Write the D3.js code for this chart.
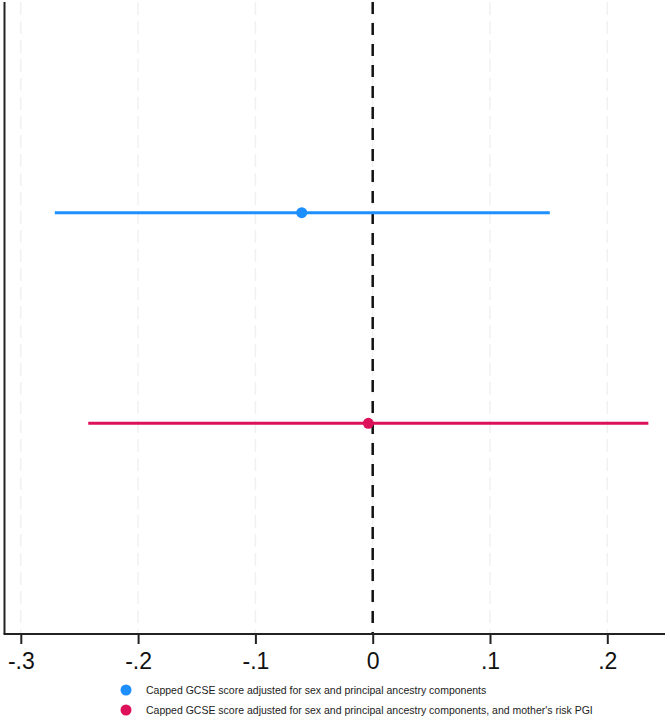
<!DOCTYPE html>
<html>
<head>
<meta charset="utf-8">
<script src="https://cdn.jsdelivr.net/npm/d3@7"></script>
<style>
  html, body { margin: 0; padding: 0; background: #fff; }
  svg { display: block; }
</style>
</head>
<body>
<svg id="chart" width="670" height="721"></svg>
<script>
// ---- data ----
const seriesLabels = [
  "Capped GCSE score adjusted for sex and principal ancestry components",
  "Capped GCSE score adjusted for sex and principal ancestry components, and mother's risk PGI"
];
const seriesColors = ["#1e8fff", "#dc1159"];
const estimates = [-0.0605, -0.0037];
const ciLower = [-0.271, -0.2425];
const ciUpper = [0.151, 0.235];
const rowPositions = [1, 2];
const xTickValues = [-0.3, -0.2, -0.1, 0, 0.1, 0.2];
const xTickLabels = ["-.3", "-.2", "-.1", "0", ".1", ".2"];

// ---- layout ----
const svg = d3.select("#chart");
const plotLeft = 4.5, plotRight = 665, plotTop = 2, plotBottom = 634;

const x = d3.scaleLinear().domain([-0.3, 0.2]).range([20.8, 607.3]);
const y = d3.scaleLinear().domain([0, 3]).range([plotTop, plotBottom]);

// gridlines
svg.append("g").selectAll("line").data(xTickValues).join("line")
  .attr("x1", d => x(d)).attr("x2", d => x(d))
  .attr("y1", plotTop).attr("y2", plotBottom)
  .attr("stroke", "#f1f1f1").attr("stroke-width", 1.5)
  .attr("stroke-dasharray", "13,6");

// zero reference line
svg.append("line")
  .attr("x1", x(0)).attr("x2", x(0))
  .attr("y1", plotTop).attr("y2", plotBottom)
  .attr("stroke", "#111").attr("stroke-width", 2.5)
  .attr("stroke-dasharray", "12,9");

// CI lines
const rows = d3.range(estimates.length);
svg.append("g").selectAll("line").data(rows).join("line")
  .attr("x1", i => x(ciLower[i])).attr("x2", i => x(ciUpper[i]))
  .attr("y1", i => y(rowPositions[i])).attr("y2", i => y(rowPositions[i]))
  .attr("stroke", i => seriesColors[i]).attr("stroke-width", 3);

// points
svg.append("g").selectAll("circle").data(rows).join("circle")
  .attr("cx", i => x(estimates[i])).attr("cy", i => y(rowPositions[i]))
  .attr("r", 5.5).attr("fill", i => seriesColors[i]);

// left axis line
svg.append("line")
  .attr("x1", plotLeft).attr("x2", plotLeft)
  .attr("y1", plotTop).attr("y2", plotBottom)
  .attr("stroke", "#222").attr("stroke-width", 2);

// bottom axis
const xAxis = d3.axisBottom(x)
  .tickValues(xTickValues)
  .tickFormat((d, i) => xTickLabels[i])
  .tickSize(10).tickPadding(9).tickSizeOuter(0);
const gx = svg.append("g").attr("transform", `translate(0,${plotBottom})`).call(xAxis);
gx.select(".domain").remove();
gx.selectAll(".tick line").attr("stroke", "#222").attr("stroke-width", 2);
gx.selectAll(".tick text")
  .attr("font-family", "Liberation Sans, Arial, sans-serif")
  .attr("font-size", 23).attr("fill", "#111");
svg.append("line")
  .attr("x1", plotLeft - 1).attr("x2", plotRight)
  .attr("y1", plotBottom).attr("y2", plotBottom)
  .attr("stroke", "#222").attr("stroke-width", 2);

// legend
const lg = svg.append("g");
const legendY = [690, 710];
lg.selectAll("circle").data(rows).join("circle")
  .attr("cx", 126).attr("cy", i => legendY[i]).attr("r", 5.5)
  .attr("fill", i => seriesColors[i]);
lg.selectAll("text").data(rows).join("text")
  .attr("x", 146).attr("y", i => legendY[i]).attr("dy", "0.35em")
  .attr("font-family", "Liberation Sans, Arial, sans-serif")
  .attr("font-size", 10.5).attr("fill", "#222")
  .text(i => seriesLabels[i]);
</script>
</body>
</html>
